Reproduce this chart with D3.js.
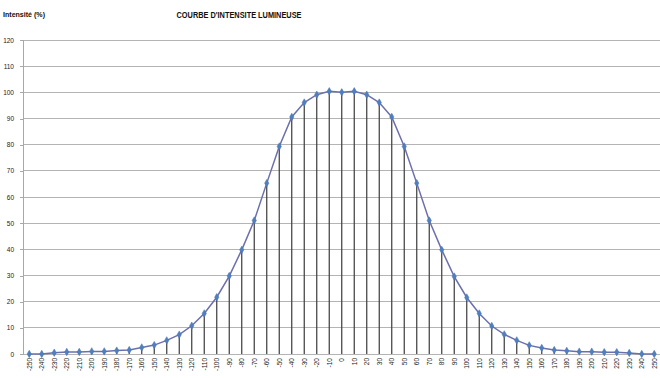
<!DOCTYPE html>
<html>
<head>
<meta charset="utf-8">
<script src="https://cdn.jsdelivr.net/npm/d3@7"></script>
<style>
  body { margin: 0; background: #fff; }
  svg { display: block; font-family: "Liberation Sans", Arial, sans-serif; }
</style>
</head>
<body>
<div id="chart"></div>
<script>
// angle (degrees) and relative intensity (%)
const angles = [-250, -240, -230, -220, -210, -200, -190, -180, -170, -160,
  -150, -140, -130, -120, -110, -100, -90, -80, -70, -60,
  -50, -40, -30, -20, -10, 0, 10, 20, 30, 40,
  50, 60, 70, 80, 90, 100, 110, 120, 130, 140,
  150, 160, 170, 180, 190, 200, 210, 220, 230, 240, 250];
const intensity = [0, 0, 0.5, 0.8, 0.8, 1.0, 1.0, 1.3, 1.5, 2.5,
  3.4, 5.2, 7.4, 10.8, 15.5, 21.7, 29.8, 39.8, 51, 65.3,
  79.3, 90.6, 96.1, 99.1, 100.4, 100, 100.4, 99.1, 96.1, 90.6,
  79.3, 65.3, 51, 39.8, 29.6, 21.6, 15.5, 10.7, 7.5, 5.2,
  3.3, 2.3, 1.5, 1.2, 0.9, 0.9, 0.7, 0.7, 0.4, 0, 0];
const yTicks = [0, 10, 20, 30, 40, 50, 60, 70, 80, 90, 100, 110, 120];

const W = 660, H = 378;
const plot = { left: 23, right: 660.5, top: 40, bottom: 354 };

const svg = d3.select('#chart').append('svg')
  .attr('width', W).attr('height', H);

const x = d3.scaleBand()
  .domain(angles)
  .range([plot.left, plot.right])
  .padding(0);
const cx = d => x(d) + x.bandwidth() / 2;

const y = d3.scaleLinear()
  .domain([0, 120])
  .range([plot.bottom, plot.top]);

// Horizontal gridlines
svg.append('g')
  .selectAll('line')
  .data(yTicks)
  .join('line')
  .attr('x1', plot.left).attr('x2', plot.right)
  .attr('y1', d => y(d)).attr('y2', d => y(d))
  .style('stroke', '#b4b4b4')
  .style('stroke-width', 1)
  .attr('shape-rendering', 'crispEdges');

// Y axis
const yAxis = svg.append('g')
  .attr('transform', `translate(${plot.left},0)`)
  .call(d3.axisLeft(y).tickValues(yTicks).tickSize(3).tickPadding(6));
yAxis.select('.domain').style('stroke', '#a8a8a8').attr('shape-rendering', 'crispEdges');
yAxis.selectAll('.tick line').style('stroke', '#a8a8a8').attr('shape-rendering', 'crispEdges');
yAxis.selectAll('text')
  .style('font-size', '6.5px')
  .style('fill', '#222')
  .style('font-family', '"Liberation Sans", Arial, sans-serif');

// X axis labels (rotated)
svg.append('g')
  .selectAll('text')
  .data(angles)
  .join('text')
  .attr('transform', d => `translate(${cx(d)},${plot.bottom + 4}) rotate(-90)`)
  .attr('text-anchor', 'end')
  .attr('dy', '0.35em')
  .style('font-size', '6.5px')
  .style('fill', '#222')
  .text(d => d);

// Drop lines
const pts = angles.map((a, i) => ({ a, v: intensity[i] }));
svg.append('g')
  .selectAll('line')
  .data(pts)
  .join('line')
  .attr('x1', d => cx(d.a)).attr('x2', d => cx(d.a))
  .attr('y1', d => y(d.v)).attr('y2', y(0))
  .style('stroke', '#3a3a3a')
  .style('stroke-width', 1.2);

// Curve
const line = d3.line()
  .x(d => cx(d.a))
  .y(d => y(d.v));
svg.append('path')
  .datum(pts)
  .attr('d', line)
  .style('fill', 'none')
  .style('stroke', '#6b70ad')
  .style('stroke-width', 1.5);

// Markers (diamonds)
svg.append('g')
  .selectAll('path')
  .data(pts)
  .join('path')
  .attr('transform', d => `translate(${cx(d.a)},${y(d.v)})`)
  .attr('d', d3.symbol(d3.symbolDiamond, 16))
  .style('fill', '#4f7fc0')
  .style('stroke', '#4672b0')
  .style('stroke-width', 0.5);

// Titles
svg.append('text')
  .attr('x', 239).attr('y', 18)
  .attr('text-anchor', 'middle')
  .attr('textLength', 125)
  .attr('lengthAdjust', 'spacingAndGlyphs')
  .style('font-size', '8.5px')
  .style('font-weight', 'bold')
  .style('fill', '#111')
  .text("COURBE D'INTENSITE LUMINEUSE");

svg.append('text')
  .attr('x', 3).attr('y', 17)
  .attr('textLength', 42)
  .attr('lengthAdjust', 'spacingAndGlyphs')
  .style('font-size', '7px')
  .style('font-weight', 'bold')
  .style('fill', '#111')
  .text('Intensité (%)');
</script>
</body>
</html>
